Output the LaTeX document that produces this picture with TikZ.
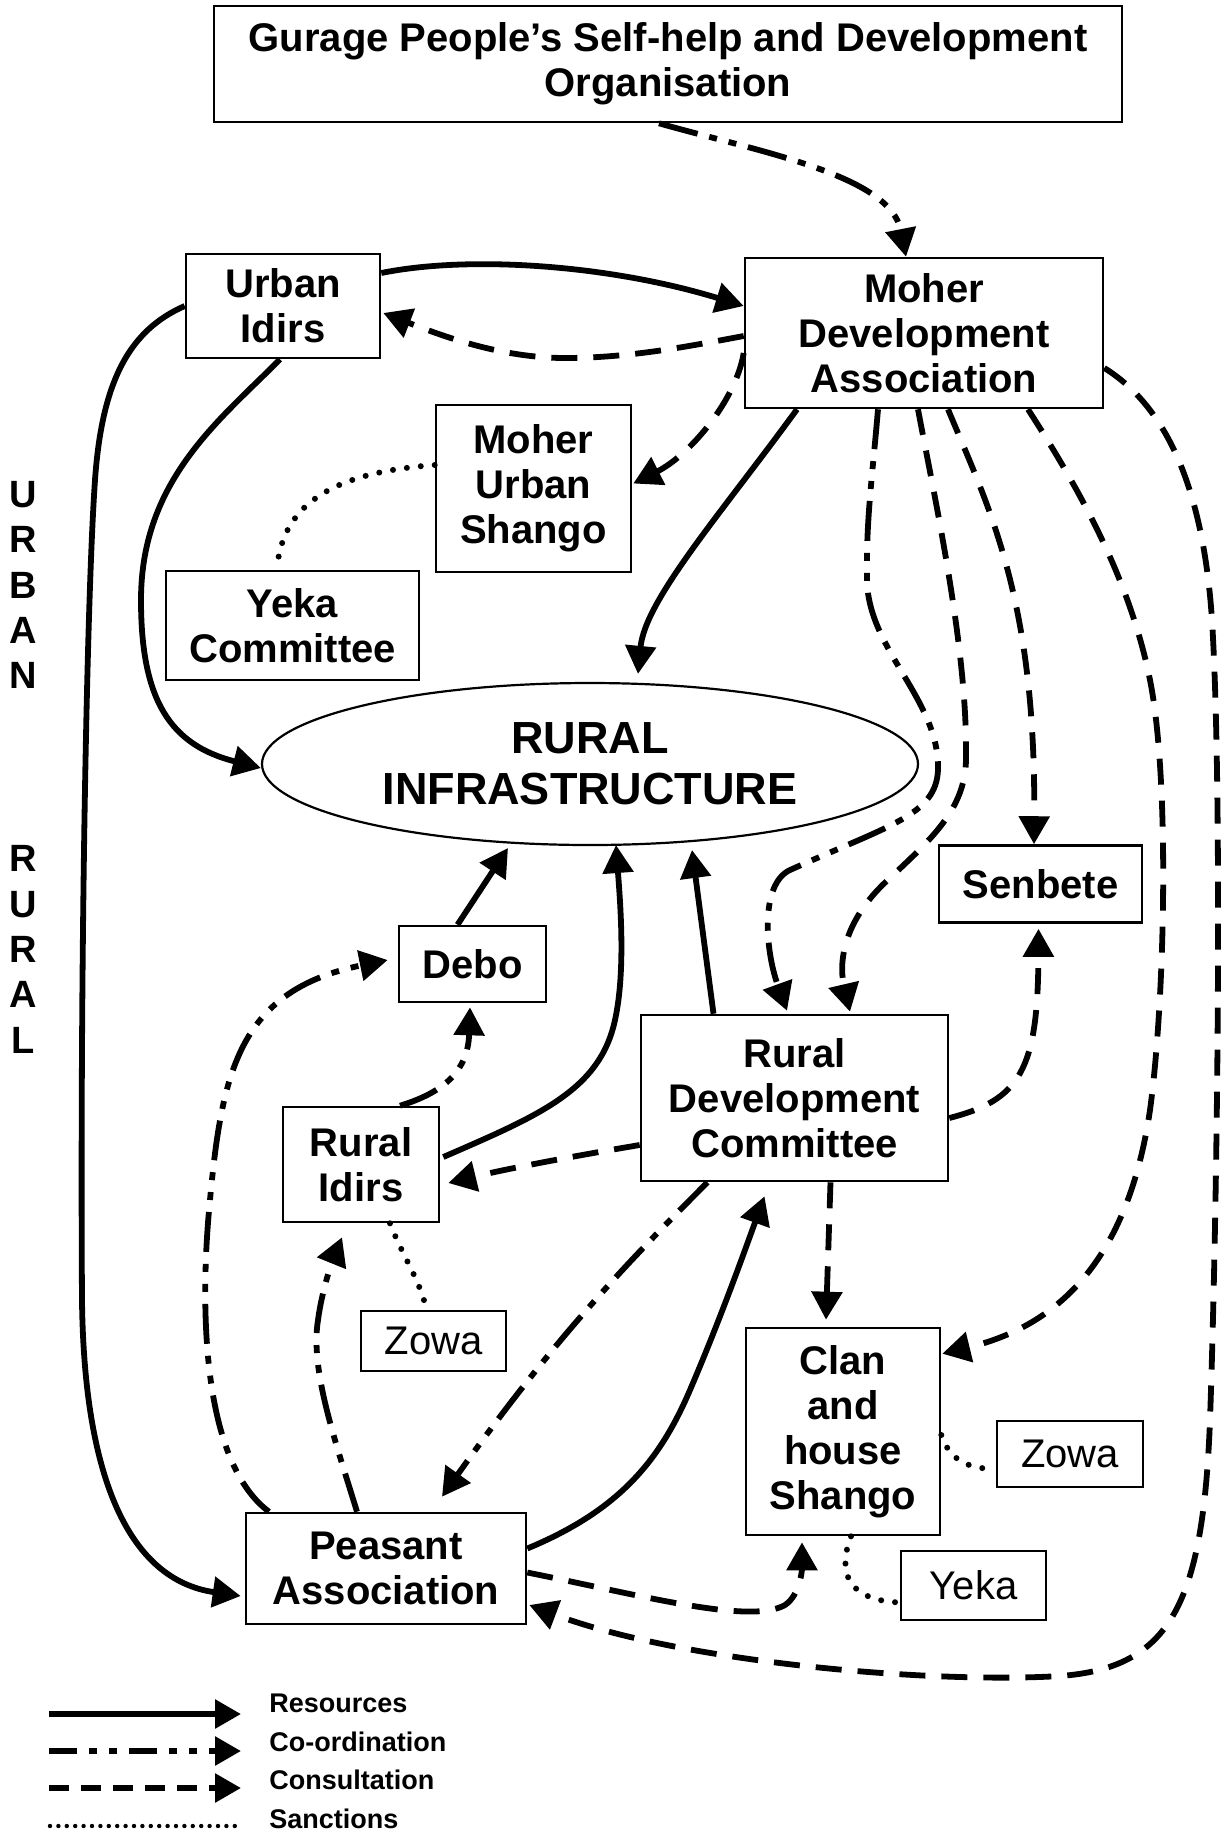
\documentclass[tikz,border=0pt]{standalone}
\usepackage{fontspec}
\setmainfont{Liberation Sans}
\usetikzlibrary{arrows.meta,shapes.geometric,calc}
\tikzset{
  nbox/.style={draw, line width=1.3pt, align=center, inner sep=2pt,
    font=\bfseries\fontsize{20}{22.5}\selectfont},
  plainbox/.style={draw, line width=1.2pt, align=center, inner sep=2pt,
    font=\fontsize{20}{22.5}\selectfont},
  arrres/.style={line width=2.9pt, line join=round, -{Triangle[length=14pt,width=15pt]}},
  arrcoord/.style={arrres, dash pattern=on 20pt off 6pt on 4pt off 6pt on 4pt off 6pt},
  arrcons/.style={arrres, dash pattern=on 13pt off 8pt},
  sancline/.style={line width=3pt, line cap=round, dash pattern=on 0pt off 7pt},
  legendtext/.style={font=\bfseries\fontsize{13.5}{16}\selectfont, inner sep=0pt},
  sidelabel/.style={font=\bfseries\fontsize{19}{22.65}\selectfont, align=center, inner sep=0pt}
}
\begin{document}
\begin{tikzpicture}[x=0.5pt,y=-0.5pt]
\fill[white] (0,0) rectangle (1223,1833);
\useasboundingbox (0,0) rectangle (1223,1833);

% nodes
\node[nbox, minimum width=454pt, minimum height=58pt] (gurage) at (668,64)
  {Gurage People’s Self-help and Development\\Organisation};
\node[nbox, minimum width=97pt, minimum height=52pt] (urbanidirs) at (283,306) {Urban\\Idirs};
\node[nbox, minimum width=179pt, minimum height=75pt] (moherda) at (924,333) {Moher\\Development\\Association};
\node[nbox, minimum width=97.5pt, minimum height=83.5pt] (mushango) at (533.5,488.5) {Moher\\Urban\\Shango};
\node[nbox, minimum width=126.5pt, minimum height=54.5pt] (yekacom) at (292.5,625.5) {Yeka\\Committee};
\node[ellipse, draw, line width=1.1pt, minimum width=328pt, minimum height=81pt, inner sep=0pt,
  align=center, font=\bfseries\fontsize{22.5}{25.7}\selectfont] (infra) at (590,764) {RURAL\\INFRASTRUCTURE};
\node[nbox, minimum width=101.5pt, minimum height=38.5pt] (senbete) at (1040.5,884) {Senbete};
\node[nbox, minimum width=73.5pt, minimum height=38pt] (debo) at (472.5,964) {Debo};
\node[nbox, minimum width=78pt, minimum height=57.5pt] (ruralidirs) at (361,1164.5) {Rural\\Idirs};
\node[nbox, minimum width=153.5pt, minimum height=83pt] (rdc) at (794.5,1098) {Rural\\Development\\Committee};
\node[nbox, minimum width=97pt, minimum height=103.5pt] (clan) at (843,1431.5) {Clan\\and\\house\\Shango};
\node[plainbox, minimum width=73pt, minimum height=33pt] (zowaR) at (1070,1454) {Zowa};
\node[plainbox, minimum width=72.5pt, minimum height=34.5pt] (yekaR) at (973.5,1585.5) {Yeka};
\node[plainbox, minimum width=72.5pt, minimum height=30pt] (zowaL) at (433.5,1341) {Zowa};
\node[nbox, minimum width=140pt, minimum height=55.5pt] (peasant) at (386,1568.5) {Peasant\\Association};

\node[sidelabel] (urbanlbl) at (23,585) {U\\R\\B\\A\\N};
\node[sidelabel] (rurallbl) at (23,949.5) {R\\U\\R\\A\\L};

% connectors
\draw[arrcoord] ($(gurage.south)+(-9,0)$) .. controls (760,152) and (890,175) .. ($(moherda.north)+(-18,0)$);
\draw[arrres] ($(urbanidirs.east)+(0,-33)$) .. controls (470,255) and (610,265) .. ($(moherda.west)+(0,-27)$);
\draw[arrcons] ($(moherda.west)+(0,3)$) .. controls (690,346) and (630,358) .. (565,358)
  .. controls (500,358) and (440,335) .. ($(urbanidirs.east)+(2,7)$);
\draw[arrcons] ($(moherda.west)+(0,20)$) .. controls (736,400) and (690,455) .. ($(mushango.east)+(1,-5)$);
\draw[sancline] ($(mushango.west)+(0,-23.5)$) .. controls (340,472) and (282,500) .. ($(yekacom.north)+(-15.5,0)$);
\draw[arrres] ($(urbanidirs.south)+(-3,0)$) .. controls (220,420) and (141,480) .. (141,600)
  .. controls (141,700) and (170,745) .. ($(infra.west)+(0,4)$);
\draw[arrres] ($(moherda.south)+(-127,0)$) .. controls (720,515) and (645,600) .. ($(infra.north)+(48,-8)$);
\draw[arrres] (urbanidirs.west) .. controls (130,330) and (102,380) .. (95,480)
  .. controls (86,610) and (80,1000) .. (82,1300)
  .. controls (84,1480) and (130,1580) .. ($(peasant.west)+(-4,27.5)$);
\draw[arrcoord] ($(moherda.south)+(-46,0)$) .. controls (872,480) and (866,520) .. (867,580)
  .. controls (868,650) and (940,700) .. (938,770)
  .. controls (936,815) and (890,825) .. (790,870)
  .. controls (760,884) and (765,950) .. ($(rdc.north)+(-7.5,-3)$);
\draw[arrcons] ($(moherda.south)+(-6,0)$) .. controls (935,500) and (968,650) .. (966,760)
  .. controls (965,810) and (930,840) .. (890,878)
  .. controls (845,918) and (838,960) .. ($(rdc.north)+(55.5,-2)$);
\draw[arrcons] ($(moherda.south)+(24,0)$) .. controls (990,510) and (1036,600) .. ($(senbete.north)+(-6.5,0)$);
\draw[arrcons] ($(moherda.south)+(104,0)$) .. controls (1080,490) and (1130,580) .. (1150,680)
  .. controls (1170,780) and (1165,1000) .. (1150,1110)
  .. controls (1125,1280) and (1040,1330) .. ($(clan.north east)+(1,27)$);
\draw[arrcons] ($(moherda.east)+(0,35)$) .. controls (1172,410) and (1204,500) .. (1212,620)
  .. controls (1223,800) and (1217,1220) .. (1210,1420)
  .. controls (1203,1605) and (1170,1668) .. (1060,1676)
  .. controls (930,1684) and (680,1662) .. ($(peasant.east)+(2,36.5)$);
\draw[arrres] ($(debo.north)+(-15,0)$) -- ($(infra.center)+(-82,84)$);
\draw[arrcoord] ($(ruralidirs.north)+(39,0)$) .. controls (445,1092) and (468,1070) .. ($(debo.south)+(-2.5,4)$);
\draw[arrcoord] ($(peasant.north)+(-117,0)$) .. controls (200,1460) and (200,1300) .. (210,1200)
  .. controls (222,1070) and (240,990) .. ($(debo.west)+(-10,-4)$);
\draw[arrcoord] ($(peasant.north)+(-29,0)$) .. controls (335,1440) and (310,1370) .. (318,1320)
  .. controls (322,1290) and (332,1262) .. ($(ruralidirs.south)+(-19,14)$);
\draw[sancline] ($(ruralidirs.south)+(29,0)$) .. controls (402,1255) and (420,1280) .. ($(zowaL.north)+(-7,0)$);
\draw[arrres] ($(ruralidirs.east)+(3,-7.5)$) .. controls (540,1115) and (600,1090) .. (615,1020)
  .. controls (626,970) and (620,900) .. ($(infra.center)+(26,81)$);
\draw[arrres] ($(rdc.north)+(-81,0)$) -- ($(infra.center)+(102,86)$);
\draw[arrcons] ($(rdc.west)+(0,47)$) .. controls (580,1155) and (510,1168) .. ($(ruralidirs.east)+(8,18.5)$);
\draw[arrcoord] ($(rdc.south)+(-87,0)$) .. controls (640,1250) and (560,1330) .. ($(peasant.north)+(56,-15)$);
\draw[arrres] ($(peasant.east)+(0,-20)$) .. controls (620,1510) and (660,1460) .. (690,1390)
  .. controls (720,1320) and (745,1250) .. ($(rdc.south)+(-30,14)$);
\draw[arrcons] ($(rdc.south)+(36,0)$) -- ($(clan.north)+(-17,-7)$);
\draw[arrcons] ($(rdc.east)+(0,20)$) .. controls (1020,1100) and (1038,1070) .. ($(senbete.south)+(-2,5)$);
\draw[arrcons] ($(peasant.east)+(0,4)$) .. controls (640,1595) and (750,1625) .. (785,1605)
  .. controls (800,1595) and (802,1570) .. ($(clan.south)+(-41,6)$);
\draw[sancline] ($(clan.east)+(0,3.5)$) .. controls (948,1455) and (962,1469) .. ($(zowaR.west)+(0,15)$);
\draw[sancline] ($(clan.south)+(8,0)$) .. controls (838,1570) and (845,1600) .. ($(yekaR.west)+(0,17)$);

% legend
\coordinate (la1) at (49,1714); \coordinate (lb1) at (241,1714);
\coordinate (la2) at (49,1751); \coordinate (lb2) at (241,1751);
\coordinate (la3) at (49,1788); \coordinate (lb3) at (241,1788);
\coordinate (la4) at (50,1826); \coordinate (lb4) at (240,1826);
\draw[arrres, -{Triangle[length=13pt,width=14pt]}] (la1) -- (lb1);
\draw[arrcoord, dash pattern=on 14pt off 6pt on 4pt off 6pt on 4pt off 6pt, -{Triangle[length=13pt,width=14pt]}] (la2) -- (lb2);
\draw[arrcons, dash pattern=on 10pt off 6pt, -{Triangle[length=13pt,width=14pt]}] (la3) -- (lb3);
\draw[sancline, line width=2.2pt, dash pattern=on 0pt off 4.2pt] (la4) -- (lb4);
\node[legendtext, anchor=base west] (lres) at (269,1712) {Resources};
\node[legendtext, anchor=base west] (lcoord) at (269,1751) {Co-ordination};
\node[legendtext, anchor=base west] (lcons) at (269,1789) {Consultation};
\node[legendtext, anchor=base west] (lsanc) at (269,1828) {Sanctions};
\end{tikzpicture}
\end{document}
